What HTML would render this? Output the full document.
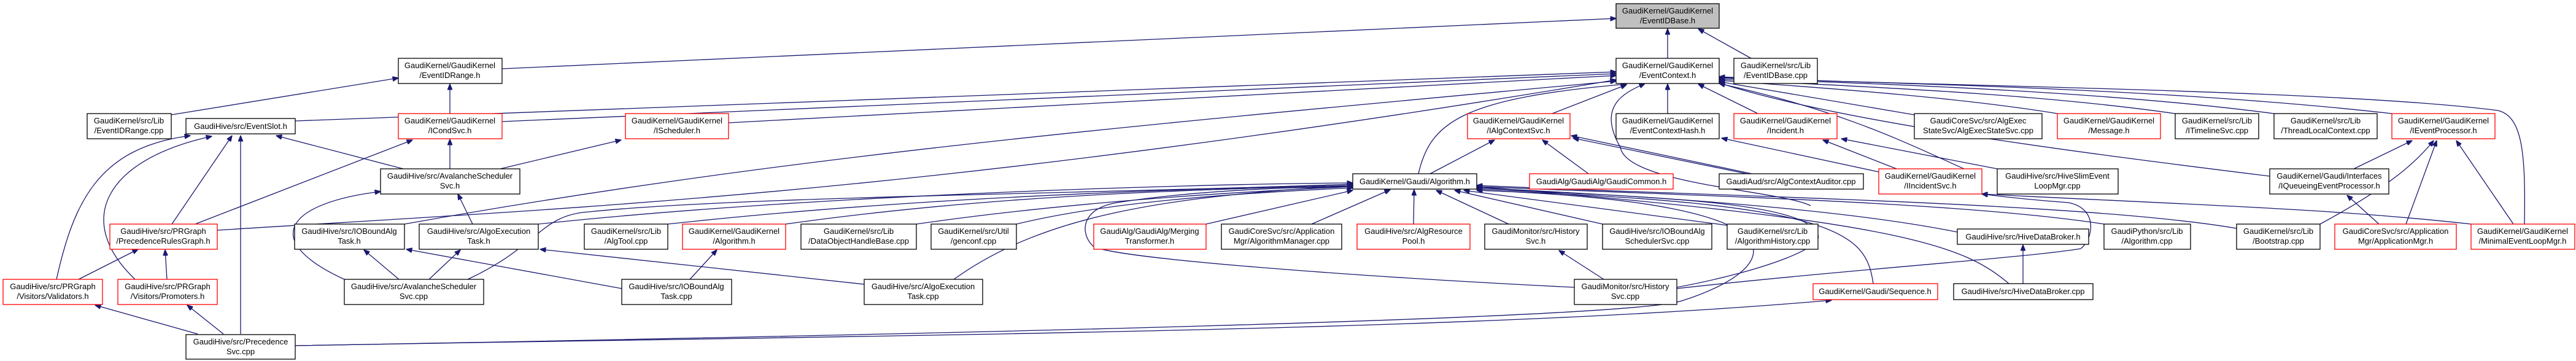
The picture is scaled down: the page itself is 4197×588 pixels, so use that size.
<!DOCTYPE html>
<html><head><meta charset="utf-8"><style>
html,body{margin:0;padding:0;background:#fff;}
svg{display:block;}
text{font-family:"Liberation Sans",sans-serif;font-size:13px;fill:#000;text-anchor:middle;}
.e{fill:none;stroke:#191970;stroke-width:1.3;marker-end:url(#a);}
.b{fill:#fff;stroke:#000;stroke-width:1.3;}
.r{fill:#fff;stroke:#ff0000;stroke-width:1.3;}
.g{fill:#bfbfbf;stroke:#000;stroke-width:1.3;}
</style></head><body>
<svg width="4197" height="588" viewBox="0 0 4197 588" xmlns="http://www.w3.org/2000/svg">
<defs><marker id="a" markerWidth="10" markerHeight="8" refX="9.5" refY="4" orient="auto" markerUnits="userSpaceOnUse"><polygon points="0,0 10,4 0,8" fill="#191970" stroke="#191970"/></marker></defs>

<!-- edges -->
<path class="e" d="M818,112 L2633,30"/>
<path class="e" d="M2717,95 L2717,47"/>
<path class="e" d="M2853,95 L2767,47"/>
<path class="e" d="M279,187 L649,127"/>
<path class="e" d="M733,185 L733,137"/>
<path class="e" d="M481,197 L2633,117"/>
<path class="e" d="M818,198 L2633,120"/>
<path class="e" d="M1187,200 L2633,123"/>
<path class="e" d="M657,275 L450,221"/>
<path class="e" d="M733,275 L733,227"/>
<path class="e" d="M815,275 L1012,228"/>
<path class="e" d="M280,365 L378,221"/>
<path class="e" d="M318,365 L672,228"/>
<path class="e" d="M354,375 C900,340 1500,320 2633,130"/>
<path class="e" d="M92,455 C120,330 160,240 310,221"/>
<path class="e" d="M220,455 C120,360 170,260 345,222"/>
<path class="e" d="M128,455 L225,406"/>
<path class="e" d="M272,455 L269,407"/>
<path class="e" d="M392,544 L392,221"/>
<path class="e" d="M322,544 L155,497"/>
<path class="e" d="M364,544 L305,497"/>
<path class="e" d="M481,563 C1500,545 2400,540 2984,489"/>
<path class="e" d="M481,563 C1500,545 2650,520 2740,490 C2900,440 2980,330 2406,310"/>
<path class="e" d="M561,455 C420,390 470,330 620,312"/>
<path class="e" d="M650,455 L593,407"/>
<path class="e" d="M699,455 L750,407"/>
<path class="e" d="M762,455 C880,400 880,350 960,345 C1200,320 1800,315 2204,300"/>
<path class="e" d="M770,365 L746,316"/>
<path class="e" d="M1013,470 L662,406"/>
<path class="e" d="M1124,455 L1168,407"/>
<path class="e" d="M1408,463 L880,406"/>
<path class="e" d="M1554,455 C1700,350 1900,320 2204,302"/>
<path class="e" d="M659,365 C1300,250 1900,200 2633,132"/>
<path class="e" d="M877,365 C1300,320 1900,300 2204,298"/>
<path class="e" d="M1088,365 C1500,320 1900,310 2204,300"/>
<path class="e" d="M1280,365 C1600,320 1900,310 2204,302"/>
<path class="e" d="M1493,365 C1700,335 1950,315 2204,304"/>
<path class="e" d="M1656,365 C1800,330 2000,315 2204,306"/>
<path class="e" d="M2565,468 C2200,450 1800,420 1780,400 C1760,380 1760,340 1820,330 C1950,310 2100,305 2204,304"/>
<path class="e" d="M1965,365 L2204,310"/>
<path class="e" d="M2137,365 L2265,309"/>
<path class="e" d="M2303,365 L2304,309"/>
<path class="e" d="M2458,365 L2340,310"/>
<path class="e" d="M2611,365 L2370,310"/>
<path class="e" d="M2814,367 L2385,310"/>
<path class="e" d="M2613,455 L2540,408"/>
<path class="e" d="M2732,468 C2880,440 2980,400 2960,380 C2940,330 2700,320 2406,308"/>
<path class="e" d="M3052,462 C3040,380 3000,330 2406,310"/>
<path class="e" d="M2311,283 C2330,200 2380,160 2650,137"/>
<path class="e" d="M2330,283 L2435,228"/>
<path class="e" d="M2529,185 L2650,138"/>
<path class="e" d="M2717,185 L2717,137"/>
<path class="e" d="M2864,185 L2767,137"/>
<path class="e" d="M2588,283 L2513,228"/>
<path class="e" d="M2854,283 L2560,221"/>
<path class="e" d="M2846,283 L2563,225"/>
<path class="e" d="M3090,275 L2970,228"/>
<path class="e" d="M3061,280 L2805,225"/>
<path class="e" d="M3254,275 L3000,226"/>
<path class="e" d="M3200,275 C3100,230 3000,180 2801,136"/>
<path class="e" d="M2950,335 C2900,310 2650,300 2640,240 C2600,170 2650,150 2680,136"/>
<path class="e" d="M3119,187 L2801,133"/>
<path class="e" d="M3352,185 C3200,160 3000,145 2801,131"/>
<path class="e" d="M3544,185 C3300,150 3000,140 2801,129"/>
<path class="e" d="M3705,185 C3400,145 3000,135 2801,127"/>
<path class="e" d="M3897,185 C3500,140 3000,135 2801,126"/>
<path class="e" d="M4113,365 C4115,250 4110,190 4070,180 C3800,145 3100,140 2801,125"/>
<path class="e" d="M3835,275 L3930,229"/>
<path class="e" d="M3698,287 C3400,250 3000,200 2801,135"/>
<path class="e" d="M3876,365 L3824,318"/>
<path class="e" d="M3920,365 L3970,229"/>
<path class="e" d="M3780,365 C3900,300 3940,260 3965,229"/>
<path class="e" d="M4095,365 L4002,229"/>
<path class="e" d="M4026,365 C3800,340 3600,335 3229,316"/>
<path class="e" d="M3296,462 L3296,399"/>
<path class="e" d="M3273,462 C3200,400 3100,360 2406,304"/>
<path class="e" d="M3189,378 C3000,340 2700,320 2406,306"/>
<path class="e" d="M3428,365 C3200,330 2800,320 2406,304"/>
<path class="e" d="M3644,372 C3400,330 2800,320 2406,302"/>
<path class="e" d="M2732,470 C3000,440 3300,420 3390,405 C3410,390 3420,340 3370,330 C3300,325 3260,320 3229,316"/>

<!-- nodes -->
<rect class="g" x="2633" y="6" width="168" height="40"/><text x="2717" y="22">GaudiKernel/GaudiKernel</text><text x="2717" y="38">/EventIDBase.h</text>

<rect class="b" x="649" y="95" width="169" height="41"/><text x="733" y="111">GaudiKernel/GaudiKernel</text><text x="733" y="127">/EventIDRange.h</text>
<rect class="b" x="2633" y="95" width="168" height="41"/><text x="2717" y="111">GaudiKernel/GaudiKernel</text><text x="2717" y="127">/EventContext.h</text>
<rect class="b" x="2825" y="95" width="136" height="41"/><text x="2893" y="111">GaudiKernel/src/Lib</text><text x="2893" y="127">/EventIDBase.cpp</text>

<rect class="b" x="142" y="185" width="137" height="41"/><text x="210" y="201">GaudiKernel/src/Lib</text><text x="210" y="217">/EventIDRange.cpp</text>
<rect class="b" x="303" y="193" width="178" height="25"/><text x="392" y="210">GaudiHive/src/EventSlot.h</text>
<rect class="r" x="649" y="185" width="169" height="41"/><text x="733" y="201">GaudiKernel/GaudiKernel</text><text x="733" y="217">/ICondSvc.h</text>
<rect class="r" x="1019" y="185" width="168" height="41"/><text x="1103" y="201">GaudiKernel/GaudiKernel</text><text x="1103" y="217">/IScheduler.h</text>
<rect class="r" x="2391" y="185" width="167" height="41"/><text x="2474" y="201">GaudiKernel/GaudiKernel</text><text x="2474" y="217">/IAlgContextSvc.h</text>
<rect class="b" x="2633" y="185" width="168" height="41"/><text x="2717" y="201">GaudiKernel/GaudiKernel</text><text x="2717" y="217">/EventContextHash.h</text>
<rect class="r" x="2825" y="185" width="168" height="41"/><text x="2909" y="201">GaudiKernel/GaudiKernel</text><text x="2909" y="217">/Incident.h</text>
<rect class="b" x="3119" y="185" width="208" height="41"/><text x="3223" y="201">GaudiCoreSvc/src/AlgExec</text><text x="3223" y="217">StateSvc/AlgExecStateSvc.cpp</text>
<rect class="r" x="3352" y="185" width="168" height="41"/><text x="3436" y="201">GaudiKernel/GaudiKernel</text><text x="3436" y="217">/Message.h</text>
<rect class="b" x="3544" y="185" width="136" height="41"/><text x="3612" y="201">GaudiKernel/src/Lib</text><text x="3612" y="217">/ITimelineSvc.cpp</text>
<rect class="b" x="3705" y="185" width="168" height="41"/><text x="3789" y="201">GaudiKernel/src/Lib</text><text x="3789" y="217">/ThreadLocalContext.cpp</text>
<rect class="r" x="3897" y="185" width="168" height="41"/><text x="3981" y="201">GaudiKernel/GaudiKernel</text><text x="3981" y="217">/IEventProcessor.h</text>

<rect class="b" x="620" y="275" width="227" height="41"/><text x="733" y="291">GaudiHive/src/AvalancheScheduler</text><text x="733" y="307">Svc.h</text>
<rect class="b" x="2204" y="283" width="202" height="25"/><text x="2305" y="300">GaudiKernel/Gaudi/Algorithm.h</text>
<rect class="r" x="2492" y="283" width="234" height="25"/><text x="2609" y="300">GaudiAlg/GaudiAlg/GaudiCommon.h</text>
<rect class="b" x="2801" y="283" width="235" height="25"/><text x="2918" y="300">GaudiAud/src/AlgContextAuditor.cpp</text>
<rect class="r" x="3061" y="275" width="168" height="41"/><text x="3145" y="291">GaudiKernel/GaudiKernel</text><text x="3145" y="307">/IIncidentSvc.h</text>
<rect class="b" x="3254" y="275" width="197" height="41"/><text x="3352" y="291">GaudiHive/src/HiveSlimEvent</text><text x="3352" y="307">LoopMgr.cpp</text>
<rect class="b" x="3698" y="275" width="194" height="41"/><text x="3795" y="291">GaudiKernel/Gaudi/Interfaces</text><text x="3795" y="307">/IQueueingEventProcessor.h</text>

<rect class="r" x="179" y="365" width="175" height="41"/><text x="266" y="381">GaudiHive/src/PRGraph</text><text x="266" y="397">/PrecedenceRulesGraph.h</text>
<rect class="b" x="480" y="365" width="179" height="41"/><text x="569" y="381">GaudiHive/src/IOBoundAlg</text><text x="569" y="397">Task.h</text>
<rect class="b" x="683" y="365" width="194" height="41"/><text x="780" y="381">GaudiHive/src/AlgoExecution</text><text x="780" y="397">Task.h</text>
<rect class="b" x="952" y="365" width="136" height="41"/><text x="1020" y="381">GaudiKernel/src/Lib</text><text x="1020" y="397">/AlgTool.cpp</text>
<rect class="r" x="1112" y="365" width="168" height="41"/><text x="1196" y="381">GaudiKernel/GaudiKernel</text><text x="1196" y="397">/Algorithm.h</text>
<rect class="b" x="1305" y="365" width="188" height="41"/><text x="1399" y="381">GaudiKernel/src/Lib</text><text x="1399" y="397">/DataObjectHandleBase.cpp</text>
<rect class="b" x="1517" y="365" width="139" height="41"/><text x="1586" y="381">GaudiKernel/src/Util</text><text x="1586" y="397">/genconf.cpp</text>
<rect class="r" x="1782" y="365" width="183" height="41"/><text x="1873" y="381">GaudiAlg/GaudiAlg/Merging</text><text x="1873" y="397">Transformer.h</text>
<rect class="b" x="1990" y="365" width="196" height="41"/><text x="2088" y="381">GaudiCoreSvc/src/Application</text><text x="2088" y="397">Mgr/AlgorithmManager.cpp</text>
<rect class="r" x="2211" y="365" width="184" height="41"/><text x="2303" y="381">GaudiHive/src/AlgResource</text><text x="2303" y="397">Pool.h</text>
<rect class="b" x="2419" y="365" width="167" height="41"/><text x="2502" y="381">GaudiMonitor/src/History</text><text x="2502" y="397">Svc.h</text>
<rect class="b" x="2611" y="365" width="178" height="41"/><text x="2700" y="381">GaudiHive/src/IOBoundAlg</text><text x="2700" y="397">SchedulerSvc.cpp</text>
<rect class="b" x="2814" y="365" width="148" height="41"/><text x="2888" y="381">GaudiKernel/src/Lib</text><text x="2888" y="397">/AlgorithmHistory.cpp</text>
<rect class="b" x="3189" y="373" width="214" height="25"/><text x="3296" y="390">GaudiHive/src/HiveDataBroker.h</text>
<rect class="b" x="3428" y="365" width="141" height="41"/><text x="3498" y="381">GaudiPython/src/Lib</text><text x="3498" y="397">/Algorithm.cpp</text>
<rect class="b" x="3644" y="365" width="136" height="41"/><text x="3712" y="381">GaudiKernel/src/Lib</text><text x="3712" y="397">/Bootstrap.cpp</text>
<rect class="r" x="3804" y="365" width="198" height="41"/><text x="3903" y="381">GaudiCoreSvc/src/Application</text><text x="3903" y="397">Mgr/ApplicationMgr.h</text>
<rect class="r" x="4026" y="365" width="169" height="41"/><text x="4110" y="381">GaudiKernel/GaudiKernel</text><text x="4110" y="397">/MinimalEventLoopMgr.h</text>

<rect class="r" x="5" y="455" width="162" height="41"/><text x="86" y="471">GaudiHive/src/PRGraph</text><text x="86" y="487">/Visitors/Validators.h</text>
<rect class="r" x="192" y="455" width="162" height="41"/><text x="273" y="471">GaudiHive/src/PRGraph</text><text x="273" y="487">/Visitors/Promoters.h</text>
<rect class="b" x="561" y="455" width="227" height="41"/><text x="674" y="471">GaudiHive/src/AvalancheScheduler</text><text x="674" y="487">Svc.cpp</text>
<rect class="b" x="1013" y="455" width="179" height="41"/><text x="1102" y="471">GaudiHive/src/IOBoundAlg</text><text x="1102" y="487">Task.cpp</text>
<rect class="b" x="1408" y="455" width="193" height="41"/><text x="1504" y="471">GaudiHive/src/AlgoExecution</text><text x="1504" y="487">Task.cpp</text>
<rect class="b" x="2565" y="455" width="167" height="41"/><text x="2648" y="471">GaudiMonitor/src/History</text><text x="2648" y="487">Svc.cpp</text>
<rect class="r" x="2954" y="462" width="203" height="26"/><text x="3055" y="479">GaudiKernel/Gaudi/Sequence.h</text>
<rect class="b" x="3183" y="462" width="227" height="26"/><text x="3296" y="479">GaudiHive/src/HiveDataBroker.cpp</text>

<rect class="b" x="303" y="545" width="178" height="40"/><text x="392" y="561">GaudiHive/src/Precedence</text><text x="392" y="577">Svc.cpp</text>
</svg>
</body></html>
